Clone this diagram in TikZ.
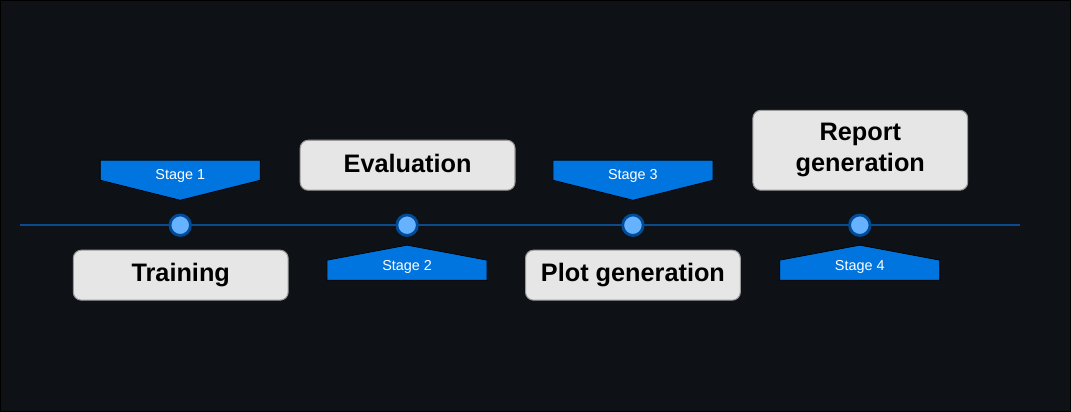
\documentclass[tikz,border=0pt]{standalone}
\usepackage{fontspec}
\setmainfont{Liberation Sans}
\usepackage{tikz}
\usetikzlibrary{positioning}
\definecolor{bgdark}{HTML}{0E1116}
\definecolor{linedark}{HTML}{0B4A8C}
\definecolor{dotfill}{HTML}{66B2FF}
\definecolor{dotedge}{HTML}{004C99}
\definecolor{flagblue}{HTML}{0075E0}
\definecolor{boxgray}{HTML}{E6E6E6}
\definecolor{boxedge}{HTML}{9A9A9A}

\begin{document}
\begin{tikzpicture}[x=0.02cm,y=-0.02cm,
	dot/.style={circle,fill=dotfill,draw=dotedge,line width=1.6pt,minimum size=0.41cm,inner sep=0pt},
	task/.style={rectangle,rounded corners=0.16cm,fill=boxgray,draw=boxedge,line width=0.6pt,
		minimum width=4.3cm,minimum height=1cm,align=center,
		font=\bfseries\fontsize{14.4}{17.6}\selectfont},
	flag/.style={fill=flagblue},
	flagtext/.style={text=white,inner sep=0pt,font=\fontsize{8.2}{10}\selectfont}]
\draw[fill=bgdark,draw=black] (0,0) rectangle (1071,411);
\coordinate (l0) at (20,225);
\coordinate (l1) at (1020,225);
\draw[linedark,line width=1.1pt] (l0) -- (l1);
\foreach \x/\n in {180/1,407/2,633/3,860/4}
	\node[dot] (d\n) at (\x,225) {};
% flags above the line
\foreach \x/\n in {180/1,633/3}
{
	\draw[flag] (\x-80,160) -- (\x+80,160) -- (\x+80,180) -- (\x,200) -- (\x-80,180) -- cycle;
	\node[flagtext] (s\n) at (\x,176) {Stage \n};
}
% flags below the line
\foreach \x/\n in {407/2,860/4}
{
	\draw[flag] (\x-80,280) -- (\x+80,280) -- (\x+80,260) -- (\x,245) -- (\x-80,260) -- cycle;
	\node[flagtext] (s\n) at (\x,267) {Stage \n};
}
\node[task] (train) at (180.5,275) {Training};
\node[task,text depth=0.25em] (eval) at (407.5,165) {Evaluation};
\node[task] (plot) at (633,275) {Plot generation};
\node[task,minimum height=1.6cm] (report) at (860.5,150) {Report\\generation};
\end{tikzpicture}
\end{document}
